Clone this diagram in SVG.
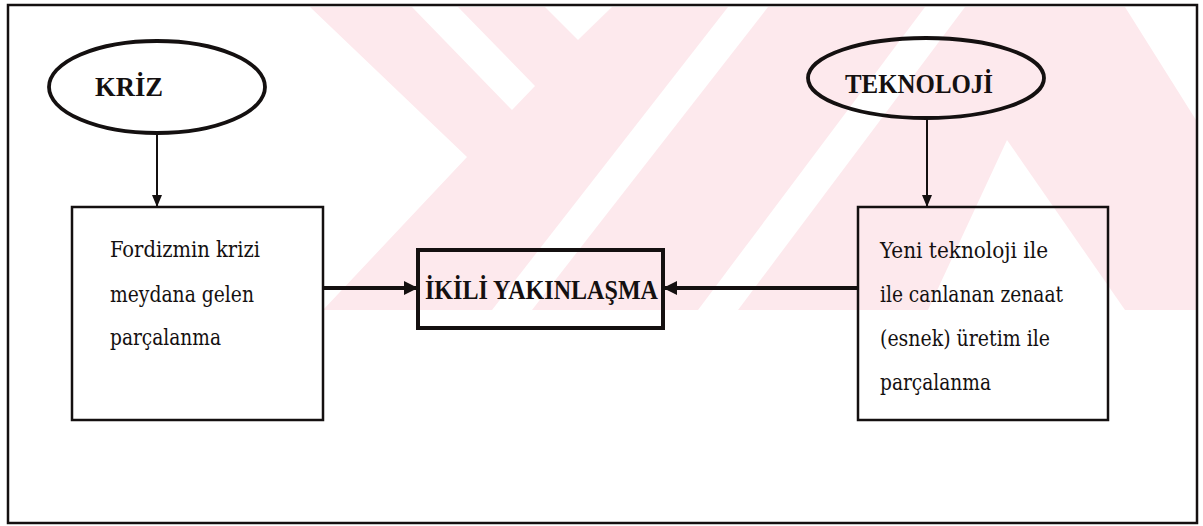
<svg xmlns="http://www.w3.org/2000/svg" width="1203" height="526" viewBox="0 0 1203 526">
<style>
.wm{fill:#fde9ed}
.wh{fill:#ffffff}
.frame{fill:none;stroke:#141010;stroke-width:2.5}
.ell{fill:none;stroke:#141010;stroke-width:3.8}
.box{fill:none;stroke:#141010;stroke-width:2.5}
.boxb{fill:none;stroke:#141010;stroke-width:4}
.thin{stroke:#141010;stroke-width:2;fill:none}
.thick{stroke:#141010;stroke-width:4;fill:none}
.lbl{font-family:"Liberation Serif","DejaVu Serif",serif;font-weight:bold;font-size:27px;fill:#141010}
.txt{font-family:"DejaVu Serif Condensed","DejaVu Serif",serif;font-stretch:condensed;font-size:22px;fill:#141010}
</style>
<defs>
<marker id="ahv" viewBox="0 0 12 12" refX="12" refY="6" markerWidth="12" markerHeight="12" orient="auto" markerUnits="userSpaceOnUse"><path d="M0,1 L12,6 L0,11 Z" fill="#141010"/></marker>
<marker id="ahh" viewBox="0 0 14 14" refX="14" refY="7" markerWidth="14" markerHeight="14" orient="auto" markerUnits="userSpaceOnUse"><path d="M0,0 L14,7 L0,14 Z" fill="#141010"/></marker>
</defs>
<rect width="1203" height="526" fill="#ffffff"/>
<g id="watermark">
<path class="wm" d="M310,7 L1125,7 L1196,120 L1196,310 L323,310 L467,157 Z"/>
<path class="wh" d="M412,7 L458,7 L535,86 L512,110 Z"/>
<path class="wh" d="M545,7 L612,7 L578,40 Z"/>
<path class="wh" d="M728,7 L768,7 L532,310 L492,310 Z"/>
<path class="wh" d="M925,7 L965,7 L738,310 L698,310 Z"/>
<path class="wh" d="M1007,140 L1125,310 L928,310 Z"/>
</g>
<rect class="frame" x="8" y="5" width="1189" height="518"/>
<g id="connectors">
<line class="thin" x1="157" y1="133" x2="157" y2="207" marker-end="url(#ahv)"/>
<line class="thin" x1="927" y1="118" x2="927" y2="207" marker-end="url(#ahv)"/>
<line class="thick" x1="323" y1="288" x2="418" y2="288" marker-end="url(#ahh)"/>
<line class="thick" x1="858" y1="288" x2="663" y2="288" marker-end="url(#ahh)"/>
</g>
<g id="kriz">
<ellipse class="ell" cx="157" cy="87" rx="108" ry="46"/>
<text class="lbl" x="95" y="96" textLength="68" lengthAdjust="spacingAndGlyphs">KRİZ</text>
</g>
<g id="teknoloji">
<ellipse class="ell" cx="926" cy="78" rx="118" ry="40"/>
<text class="lbl" x="845" y="93" textLength="148" lengthAdjust="spacingAndGlyphs">TEKNOLOJİ</text>
</g>
<g id="fordizm">
<rect class="box" x="72" y="207" width="251" height="213"/>
<text class="txt" x="110" y="257" textLength="150" lengthAdjust="spacingAndGlyphs">Fordizmin krizi</text>
<text class="txt" x="110" y="302" textLength="144" lengthAdjust="spacingAndGlyphs">meydana gelen</text>
<text class="txt" x="110" y="345" textLength="111" lengthAdjust="spacingAndGlyphs">parçalanma</text>
</g>
<g id="yakinlasma">
<rect class="boxb" x="418" y="250" width="245" height="78"/>
<text class="lbl" x="425" y="299" textLength="233" lengthAdjust="spacingAndGlyphs">İKİLİ YAKINLAŞMA</text>
</g>
<g id="yeni">
<rect class="box" x="858" y="207" width="250" height="213"/>
<text class="txt" x="880" y="258" textLength="168" lengthAdjust="spacingAndGlyphs">Yeni teknoloji ile</text>
<text class="txt" x="880" y="302" textLength="183" lengthAdjust="spacingAndGlyphs">ile canlanan zenaat</text>
<text class="txt" x="880" y="346" textLength="170" lengthAdjust="spacingAndGlyphs">(esnek) üretim ile</text>
<text class="txt" x="880" y="390" textLength="111" lengthAdjust="spacingAndGlyphs">parçalanma</text>
</g>
</svg>
